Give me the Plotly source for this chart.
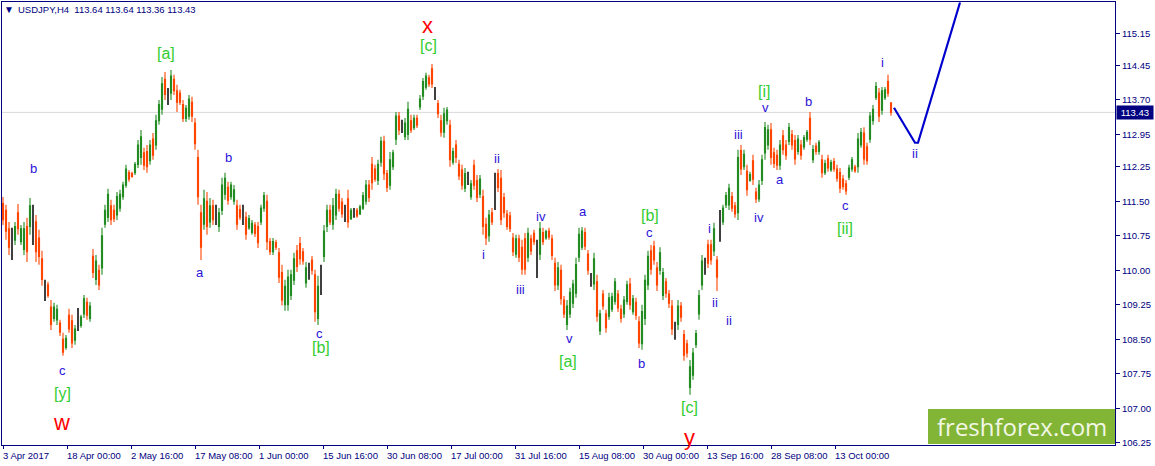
import plotly.graph_objects as go

# USDJPY H4, one candle kept for every third chart bar
highs = [
    111.59,111.42,111.05,110.92,111.05,111.44,110.98,111.05,111.14,111.57,
    111.42,111.20,110.88,110.42,109.79,109.75,109.35,109.29,109.25,108.92,
    108.64,108.59,109.16,109.03,108.81,109.18,109.03,109.46,109.40,109.31,
    110.46,110.33,110.12,110.92,111.42,111.77,111.53,111.42,111.70,111.75,
    111.92,112.29,112.18,112.14,112.35,112.83,113.05,112.66,112.72,112.83,
    112.98,113.38,113.70,114.20,114.31,113.96,114.35,114.25,114.03,113.92,
    113.70,113.59,113.81,113.77,113.31,112.62,111.42,111.75,111.70,111.57,
    111.53,111.42,111.35,112.01,112.12,111.92,111.92,111.85,111.53,111.42,
    111.42,111.27,111.20,111.09,111.05,111.05,111.42,111.70,111.64,110.70,
    110.70,110.66,110.48,110.12,109.79,110.01,110.01,110.38,110.55,
    110.72,110.48,110.18,110.16,110.31,110.01,109.88,110.12,110.98,111.42,111.42,
    111.57,111.77,111.75,111.57,111.42,111.75,111.35,111.35,111.35,111.42,
    111.70,111.96,111.96,112.46,112.29,112.40,112.90,112.92,112.18,112.57,
    112.62,113.44,113.44,113.27,113.31,113.66,113.38,113.38,113.38,113.81,
    114.18,114.29,114.25,114.48,113.98,113.70,113.38,113.53,113.55,113.27,
    112.66,112.83,112.40,112.29,112.22,112.14,111.96,112.40,112.07,112.07,
    111.75,111.14,111.31,111.35,112.12,112.20,112.18,111.68,111.31,111.27,
    110.81,110.77,110.77,110.66,110.81,110.92,110.77,110.88,110.66,111.05,
    110.92,110.88,110.92,110.77,110.27,110.18,110.12,109.44,109.35,109.62,
    109.79,110.27,110.92,110.94,110.92,110.44,109.94,110.38,109.90,109.14,
    109.57,109.14,109.51,109.51,109.83,109.57,109.25,109.44,109.77,109.83,
    109.46,109.40,109.00,109.25,109.90,110.42,110.55,110.64,
    110.18,110.50,110.05,109.83,109.57,109.35,108.88,109.35,109.31,108.70,
    108.49,108.05,108.31,108.70,109.57,110.33,110.27,110.66,110.66,111.03,
    110.31,111.31,111.42,111.70,111.88,111.70,111.48,112.62,112.72,112.62,
    112.29,112.14,112.51,111.79,111.96,112.51,113.22,113.16,113.20,
    112.66,112.62,112.83,113.05,112.83,113.20,113.05,112.94,112.94,112.83,
    112.94,113.05,113.44,112.72,112.77,112.83,112.51,112.40,112.51,112.40,
    112.44,112.29,112.22,112.07,111.96,112.29,112.46,112.29,112.98,113.09,
    113.11,112.77,113.44,113.59,114.09,113.96,113.98,113.98,114.25,113.64,
]
lows = [
    110.98,110.66,110.33,110.22,110.55,110.77,110.55,110.33,110.18,110.77,
    110.55,110.18,110.12,109.66,109.33,109.40,108.70,108.88,108.81,108.57,
    108.14,108.27,108.64,108.31,108.38,108.68,108.75,108.96,108.92,108.88,
    109.83,109.68,109.57,109.90,110.92,111.05,110.98,111.05,111.09,111.27,
    111.53,111.79,111.92,112.01,112.07,112.22,112.29,112.18,112.12,112.29,
    112.40,112.62,113.16,113.38,113.70,113.59,113.70,113.81,113.44,113.59,
    113.22,113.22,113.27,113.22,112.62,111.42,110.22,110.88,110.77,110.92,
    110.98,110.98,110.83,111.20,111.53,111.42,111.53,111.42,110.88,111.09,
    110.98,110.66,110.88,110.77,110.72,110.48,110.98,111.27,110.44,110.33,
    110.33,110.44,109.72,109.23,109.12,109.12,109.35,109.68,109.96,
    110.12,110.12,109.62,109.79,109.90,108.88,108.81,109.46,110.18,110.83,110.98,
    110.88,111.09,111.27,111.14,111.05,110.92,111.09,111.14,111.14,111.20,
    111.31,111.42,111.48,111.75,111.92,111.85,112.25,111.96,111.70,111.75,
    112.18,112.72,112.94,112.98,112.83,112.83,112.98,113.05,113.09,113.48,
    113.70,113.92,113.98,113.96,113.70,113.31,112.90,112.88,113.16,112.25,
    112.29,112.33,111.96,111.75,111.70,111.85,111.53,111.75,111.48,111.57,
    110.77,110.55,110.62,110.98,111.31,111.70,110.98,111.14,110.88,110.83,
    110.31,110.27,110.18,109.90,109.90,110.18,110.33,110.55,109.83,110.22,
    110.55,110.66,110.66,110.22,109.55,109.57,109.25,108.96,108.70,108.96,
    109.18,109.40,110.18,110.44,110.44,109.90,109.64,109.57,108.88,108.59,
    109.14,108.64,108.92,109.09,109.25,109.09,108.86,108.96,109.25,109.14,
    109.03,108.92,108.31,108.27,108.81,109.57,109.90,110.12,
    109.55,109.90,109.35,109.40,109.18,108.59,108.49,108.70,108.88,108.03,
    108.10,107.29,107.62,108.31,108.92,109.57,109.90,110.05,110.12,110.31,
    109.55,110.62,110.98,111.35,111.31,111.27,111.14,111.09,112.07,112.18,
    111.62,111.92,111.85,111.46,111.48,111.85,112.40,112.62,112.29,
    112.22,112.18,112.18,112.51,112.40,112.72,112.62,112.29,112.51,112.40,
    112.62,112.79,112.72,112.33,112.51,112.51,112.01,112.07,112.14,112.14,
    112.14,111.92,111.68,111.75,111.64,111.96,112.14,112.12,112.12,112.66,
    112.29,112.29,112.77,113.16,113.70,113.22,113.38,113.70,113.77,113.36,
]
opens = [
    111.45,111.30,110.90,110.55,110.65,111.25,110.62,110.45,110.95,110.95,
    111.15,111.05,110.70,110.25,109.50,109.68,109.20,108.95,108.92,108.85,
    108.50,108.32,109.02,108.90,108.48,108.90,108.80,109.05,109.30,108.95,
    110.30,109.80,110.00,110.05,111.00,111.15,111.40,111.30,111.20,111.35,
    111.60,111.85,112.12,112.10,112.12,112.30,112.45,112.55,112.58,112.38,
    112.85,112.72,113.25,113.50,114.15,113.78,113.85,114.15,113.90,113.85,
    113.60,113.30,113.35,113.65,113.20,112.45,111.25,111.00,111.50,111.05,
    111.40,111.20,110.95,111.30,111.65,111.80,111.60,111.50,111.40,111.32,
    111.20,111.15,110.92,110.82,110.98,110.95,111.05,111.35,111.50,110.62,
    110.40,110.60,110.38,109.95,109.25,109.25,109.45,109.78,110.42,
    110.58,110.40,109.72,110.00,110.22,109.90,108.95,109.70,110.30,110.95,111.30,
    111.00,111.20,111.65,111.48,111.25,111.55,111.12,111.25,111.30,111.22,
    111.35,111.50,111.85,112.30,112.20,111.95,112.35,112.80,112.10,111.85,
    112.25,112.85,113.35,113.10,112.90,112.95,113.25,113.10,113.30,113.55,
    113.78,113.98,114.18,114.38,113.85,113.62,113.25,113.00,113.25,113.15,
    112.35,112.72,112.30,112.18,111.78,112.00,111.60,112.28,111.95,111.65,
    111.60,111.00,110.75,111.25,111.75,112.10,112.00,111.58,111.22,111.18,
    110.70,110.35,110.68,110.50,110.68,110.28,110.68,110.80,110.10,110.35,
    110.82,110.70,110.85,110.68,110.15,109.68,110.00,109.35,108.82,109.05,
    109.28,109.50,110.28,110.50,110.82,110.35,109.78,109.70,109.75,108.68,
    109.48,109.05,109.00,109.15,109.32,109.48,109.15,109.05,109.32,109.70,
    109.10,109.30,108.88,108.40,108.95,109.68,110.42,110.52,
    110.05,110.00,109.45,109.75,109.48,109.22,108.65,108.82,109.22,108.60,
    108.40,107.45,107.72,108.38,109.05,109.68,110.08,110.55,110.55,110.42,
    110.22,111.00,111.05,111.42,111.42,111.60,111.40,111.25,112.60,112.25,
    112.15,111.95,112.38,111.70,111.55,111.95,112.55,112.72,113.05,
    112.55,112.50,112.28,112.92,112.72,112.80,112.95,112.82,112.58,112.72,
    112.68,112.85,113.30,112.40,112.70,112.58,112.40,112.12,112.42,112.18,
    112.36,112.20,112.12,111.98,111.88,112.02,112.20,112.24,112.25,112.72,
    112.98,112.68,112.85,113.25,113.75,113.85,113.48,113.75,114.10,113.64,
]
closes = [
    111.10,110.85,110.50,110.55,110.95,110.90,110.90,110.90,110.40,111.40,
    111.15,110.40,110.30,109.80,109.50,109.45,108.82,109.20,109.15,108.65,
    108.22,108.52,108.72,108.42,108.72,108.90,108.98,109.38,109.02,109.22,
    109.95,110.20,109.68,110.75,111.30,111.65,111.10,111.12,111.60,111.65,
    111.85,112.20,111.98,112.04,112.30,112.72,112.90,112.28,112.25,112.72,
    112.50,113.25,113.60,114.05,113.82,113.78,114.22,113.90,113.65,113.65,
    113.30,113.52,113.72,113.35,112.75,111.60,110.50,111.55,110.95,111.40,
    111.10,111.20,111.25,111.85,112.00,111.52,111.85,111.75,111.00,111.15,
    111.20,110.78,111.12,111.02,110.80,110.60,111.35,111.62,110.62,110.40,
    110.62,110.50,109.85,109.35,109.65,109.85,109.90,110.25,110.08,
    110.25,110.20,110.05,110.00,110.00,109.10,109.65,109.70,110.85,111.30,111.05,
    111.40,111.65,111.35,111.22,111.25,111.05,111.30,111.25,111.18,111.38,
    111.62,111.85,111.58,111.90,111.98,112.30,112.80,112.10,111.80,112.40,
    112.55,113.35,113.05,113.10,113.20,113.50,113.05,113.30,113.15,113.72,
    114.10,114.22,114.05,114.05,113.85,113.40,113.00,113.40,113.48,112.40,
    112.58,112.45,112.05,111.85,112.10,112.00,111.88,111.85,111.58,111.98,
    110.95,110.70,111.20,111.05,111.75,111.80,111.10,111.25,110.95,110.90,
    110.40,110.68,110.28,110.02,110.02,110.80,110.42,110.62,110.10,110.90,
    110.62,110.84,110.72,110.32,109.68,110.05,109.38,109.05,109.22,109.52,
    109.70,110.12,110.78,110.85,110.52,110.00,109.78,110.25,109.00,109.05,
    109.22,108.75,109.40,109.42,109.75,109.18,108.95,109.35,109.68,109.25,
    109.38,109.02,108.42,109.10,109.78,110.30,110.02,110.22,
    109.68,110.38,109.95,109.50,109.28,108.72,108.65,109.22,108.98,108.15,
    108.20,107.90,108.20,108.62,109.45,110.20,110.08,110.15,110.22,110.90,
    109.85,111.00,111.35,111.62,111.78,111.35,111.22,112.45,112.20,112.52,
    111.75,112.08,111.98,111.55,111.85,112.40,113.10,113.05,112.45,
    112.32,112.28,112.72,112.62,112.50,113.10,112.72,112.42,112.85,112.50,
    112.88,113.00,112.85,112.62,112.58,112.78,112.12,112.32,112.22,112.34,
    112.20,112.00,111.78,111.82,111.72,112.22,112.40,112.16,112.85,113.00,
    112.42,112.38,113.35,113.50,114.00,113.35,113.90,113.92,113.85,113.43,
]
assert len(highs) == len(lows) == len(opens) == len(closes)

last_price = 113.43

# axis labels
x_tick_bars = [0, 64, 128, 192, 256, 320, 384, 448, 512, 576, 640, 704, 768, 832]
x_tick_text = ["3 Apr 2017", "18 Apr 00:00", "2 May 16:00", "17 May 08:00", "1 Jun 00:00",
               "15 Jun 16:00", "30 Jun 08:00", "17 Jul 00:00", "31 Jul 16:00", "15 Aug 08:00",
               "30 Aug 00:00", "13 Sep 16:00", "28 Sep 08:00", "13 Oct 00:00"]
y_ticks = [106.25, 107.00, 107.75, 108.50, 109.25, 110.00, 110.75,
           111.50, 112.25, 112.95, 113.70, 114.45, 115.15]

# wave count labels
minor_text = ["b", "c", "b", "a", "c", "ii", "i", "iii", "iv", "a", "v", "c", "b",
              "i", "ii", "ii", "iii", "v", "a", "b", "iv", "c", "i", "ii"]
minor_bar = [30, 59, 225, 197, 316, 494, 480, 517, 538, 580, 566, 646, 638,
             706, 712, 726, 735, 762, 777, 805, 756, 842, 879, 912]
minor_price = [112.22, 107.83, 112.44, 109.96, 108.62, 112.42, 110.35, 109.57, 111.16, 111.27,
               108.51, 110.83, 107.98, 110.90, 109.29, 108.90, 112.94, 113.53, 111.98, 113.66,
               111.14, 111.40, 114.51, 112.53]
middle_text = ["[a]", "[y]", "[c]", "[b]", "[a]", "[b]", "[c]", "[i]", "[ii]"]
middle_bar = [163, 59, 425, 318, 565, 647, 686, 761, 842]
middle_price = [114.70, 107.33, 114.88, 108.31, 108.01, 111.18, 107.01, 113.88, 110.90]
major_text = ["w", "x", "y"]
major_bar = [58, 424, 686]
major_price = [106.68, 115.33, 106.36]

# forecast drawn on the chart
forecast_bar = [891, 912, 915, 957]
forecast_price = [113.53, 112.77, 112.77, 115.82]

NAVY = "#000080"
GREEN = "#228B22"
ORANGE = "#FF4500"
FONT = "Liberation Sans"

bars = [i * 3 for i in range(len(highs))]
plain = [i for i in range(len(bars)) if opens[i] != closes[i]]
level = [i for i in range(len(bars)) if opens[i] == closes[i]]


def pick(values, idx):
    return [values[i] for i in idx]


fig = go.Figure()
fig.add_trace(go.Candlestick(
    x=pick(bars, plain), open=pick(opens, plain), high=pick(highs, plain),
    low=pick(lows, plain), close=pick(closes, plain),
    increasing=dict(line=dict(color=GREEN, width=1.1), fillcolor=GREEN),
    decreasing=dict(line=dict(color=ORANGE, width=1.1), fillcolor=ORANGE),
    hoverinfo="skip", showlegend=False,
))
fig.add_trace(go.Candlestick(
    x=pick(bars, level), open=pick(opens, level), high=pick(highs, level),
    low=pick(lows, level), close=pick(closes, level),
    increasing=dict(line=dict(color="black", width=1.5), fillcolor="black"),
    decreasing=dict(line=dict(color="black", width=1.5), fillcolor="black"),
    hoverinfo="skip", showlegend=False,
))
fig.add_trace(go.Scatter(
    x=forecast_bar, y=forecast_price, mode="lines",
    line=dict(color="#0000CD", width=2.2), hoverinfo="skip", showlegend=False,
))

notes = []
for t, b, p in zip(minor_text, minor_bar, minor_price):
    notes.append(dict(x=b, y=p, text=t, showarrow=False, font=dict(family=FONT, size=13, color="#2A12D8")))
for t, b, p in zip(middle_text, middle_bar, middle_price):
    notes.append(dict(x=b, y=p, text=t, showarrow=False, font=dict(family=FONT, size=16, color="#32CD32")))
for t, b, p in zip(major_text, major_bar, major_price):
    notes.append(dict(x=b, y=p, text=t, showarrow=False, font=dict(family=FONT, size=22, color="#FF0000")))
for b, t in zip(x_tick_bars, x_tick_text):
    notes.append(dict(x=b, y=0, yref="paper", yanchor="top", xanchor="left", xshift=-2, yshift=-3,
                      text=t, showarrow=False, font=dict(family=FONT, size=9.5, color=NAVY)))
notes.append(dict(x=13, y=115.66, xanchor="left", showarrow=False,
                  text="USDJPY,H4  113.64 113.64 113.36 113.43",
                  font=dict(family=FONT, size=9.5, color=NAVY)))
notes.append(dict(x=6, y=115.66, showarrow=False, text="▼", font=dict(family=FONT, size=10, color=NAVY)))
notes.append(dict(x=1, xref="paper", xanchor="left", xshift=1, y=last_price, showarrow=False,
                  text="&nbsp;113.43&nbsp;", bgcolor="#000080", borderpad=1,
                  font=dict(family=FONT, size=9.5, color="white")))
notes.append(dict(x=1019, y=106.6, showarrow=False, text="freshforex.com",
                  font=dict(family="Open Sans", size=24, color="#F2F7E6")))

fig.update_layout(
    width=1155, height=466,
    margin=dict(l=2, r=40, t=2, b=21, pad=0),
    paper_bgcolor="white", plot_bgcolor="white",
    boxgap=0.5,
    annotations=notes,
    shapes=[
        dict(type="line", xref="paper", x0=0, x1=1, y0=last_price, y1=last_price,
             line=dict(color="#D9D9D9", width=1), layer="below"),
        dict(type="rect", x0=925, x1=1112, y0=106.22, y1=106.98,
             fillcolor="#82B536", line=dict(width=0), layer="above"),
    ],
    xaxis=dict(
        range=[-1, 1112], rangeslider=dict(visible=False), showgrid=False, zeroline=False,
        showline=True, mirror=True, linecolor=NAVY, linewidth=1,
        tickmode="array", tickvals=x_tick_bars, ticktext=[""] * len(x_tick_bars),
        ticks="outside", ticklen=3, tickcolor=NAVY,
    ),
    yaxis=dict(
        range=[106.2, 115.83], side="right", showgrid=False, zeroline=False,
        showline=True, mirror=True, linecolor=NAVY, linewidth=1,
        tickmode="array", tickvals=y_ticks, ticktext=[f"{v:.2f}" for v in y_ticks],
        ticks="outside", ticklen=4, tickcolor=NAVY,
        tickfont=dict(family=FONT, size=9.5, color=NAVY),
    ),
)

fig.write_html("out.html", config={"displayModeBar": False},
               post_script="document.body.style.margin='0';document.body.style.overflow='hidden';")
